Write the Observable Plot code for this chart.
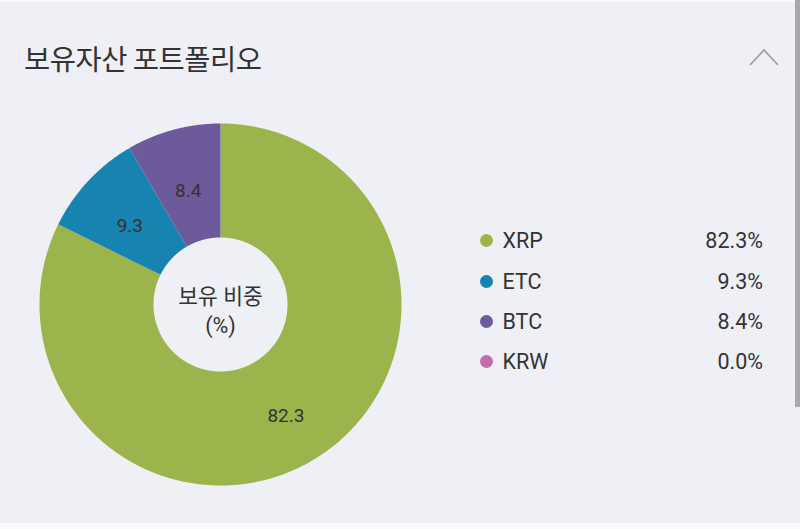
<!DOCTYPE html>
<html><head><meta charset="utf-8">
<script src="https://cdn.jsdelivr.net/npm/d3@7"></script>
<script src="https://cdn.jsdelivr.net/npm/@observablehq/plot@0.6"></script>
<style>
html,body{margin:0;padding:0;}
body{width:800px;height:529px;background:#eef0f5;position:relative;overflow:hidden;font-family:Roboto,"Noto Sans CJK KR",sans-serif;color:#333;}
#topstrip{position:absolute;left:0;top:0;width:800px;height:2px;background:#fafafa;}
#botstrip{position:absolute;left:0;top:523px;width:800px;height:6px;background:#fafafa;}
#scroll{position:absolute;left:795px;top:0;width:5px;height:407px;background:#a9a9ad;}
#title{position:absolute;left:24px;top:43px;font-family:"Noto Sans CJK KR",sans-serif;font-size:28.5px;line-height:30px;color:#333;letter-spacing:-0.5px;white-space:nowrap;}
#chev{position:absolute;left:0;top:0;}
#chart{position:absolute;left:20px;top:104px;width:400px;height:400px;}
#legend{position:absolute;left:480px;top:220.5px;width:283px;}
.row{height:40.4px;display:flex;align-items:center;font-size:21.5px;color:#333;}
.dot{width:13px;height:13px;border-radius:50%;margin-right:9.5px;flex:none;}
.name{flex:1;}
.val{text-align:right;}
</style></head><body>
<div id="topstrip"></div>
<div id="botstrip"></div>
<div id="scroll"></div>
<div id="title"></div>
<svg id="chev" width="800" height="100"><polyline points="750,65 764,50 778,65" fill="none" stroke="#9c9c9c" stroke-width="1.6"/></svg>
<div id="chart"></div>
<div id="legend"></div>
<script>
const titleText = "보유자산 포트폴리오";
const assets = ["XRP", "ETC", "BTC", "KRW"];
const shares = [82.3, 9.3, 8.4, 0.0];
const colors = ["#9bb54c", "#1783b1", "#6d5a9b", "#c46bab"];
const centerLabel = ["보유 비중", "(%)"];

document.getElementById("title").textContent = titleText;

const rows = assets.map((name, i) => ({name, share: shares[i]}));
const rOuter = 181, rInner = 67;
const arcs = d3.pie().sort(null).value(d => d.share)(rows);

const pts = [];
const labels = [];
for (const a of arcs) {
  if (a.data.share <= 0) continue;
  const n = Math.max(2, Math.ceil((a.endAngle - a.startAngle) / (Math.PI / 360)));
  for (let k = 0; k <= n; k++) {
    const t = a.startAngle + (a.endAngle - a.startAngle) * k / n;
    pts.push({name: a.data.name, x: rOuter * Math.sin(t), y: rOuter * Math.cos(t)});
  }
  for (let k = n; k >= 0; k--) {
    const t = a.startAngle + (a.endAngle - a.startAngle) * k / n;
    pts.push({name: a.data.name, x: rInner * Math.sin(t), y: rInner * Math.cos(t)});
  }
  const m = (a.startAngle + a.endAngle) / 2, rm = (rOuter + rInner) / 2;
  labels.push({x: rm * Math.sin(m), y: rm * Math.cos(m), text: a.data.share.toFixed(1)});
}

const chart = Plot.plot({
  width: 400, height: 400, margin: 0,
  x: {domain: [-200, 200], axis: null},
  y: {domain: [-200, 200], axis: null},
  color: {domain: assets, range: colors},
  style: {background: "transparent", overflow: "visible", fontFamily: 'Roboto,"Noto Sans CJK KR",sans-serif'},
  marks: [
    Plot.line(pts, {x: "x", y: "y", z: "name", fill: "name", stroke: "none", curve: "linear"}),
    Plot.text(labels, {x: "x", y: "y", text: "text", fontSize: 19, dy: 6, fill: "#333"}),
    Plot.text([{x: 0, y: 0, text: centerLabel.join("\n")}], {x: "x", y: "y", text: "text", fontSize: 21.5, lineHeight: 1.36, dy: 5, fill: "#333"})
  ]
});
document.getElementById("chart").appendChild(chart);

const legend = document.getElementById("legend");
rows.forEach((r, i) => {
  const row = document.createElement("div");
  row.className = "row";
  const dot = document.createElement("span");
  dot.className = "dot";
  dot.style.background = colors[i];
  const nm = document.createElement("span");
  nm.className = "name";
  nm.textContent = r.name;
  const v = document.createElement("span");
  v.className = "val";
  v.textContent = r.share.toFixed(1) + "%";
  row.append(dot, nm, v);
  legend.appendChild(row);
});
</script>
</body></html>
